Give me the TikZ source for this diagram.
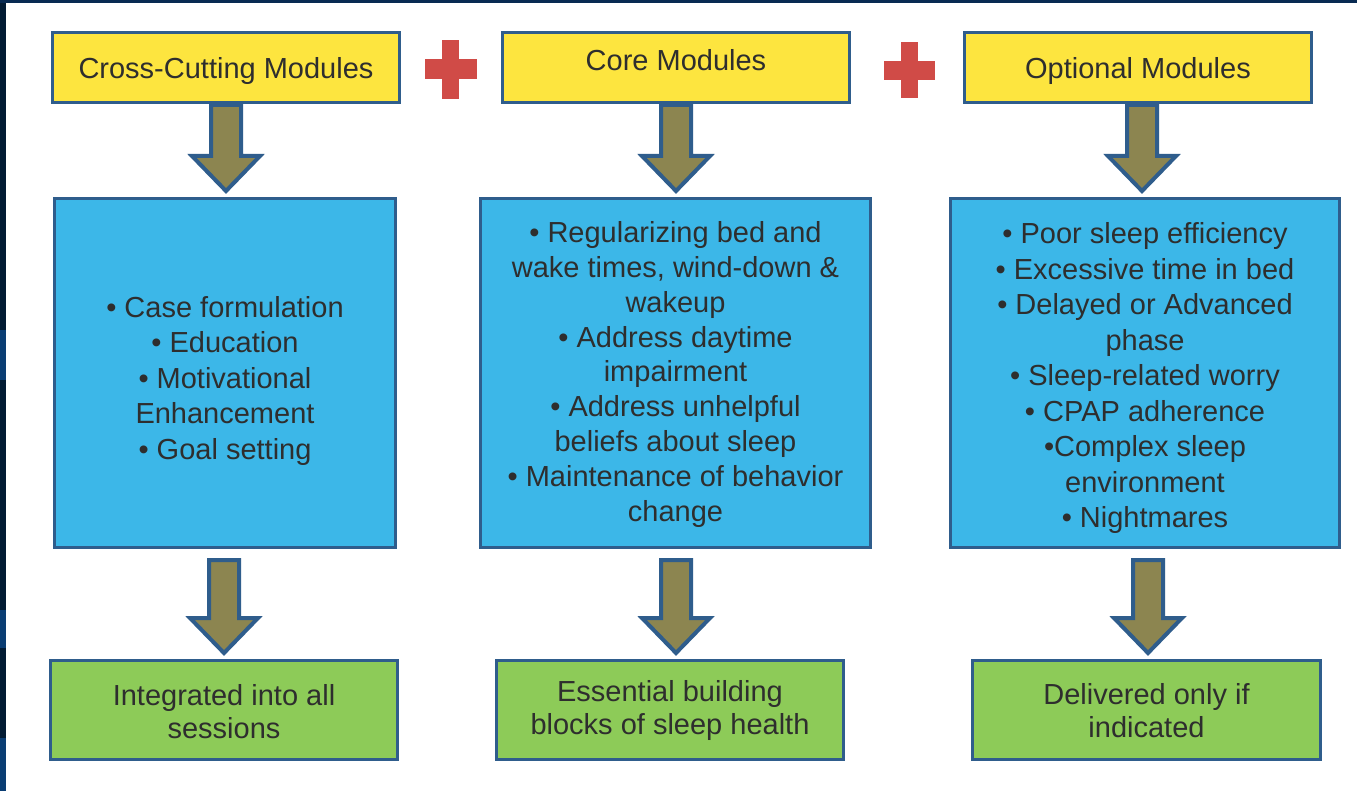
\documentclass[tikz,border=0pt]{standalone}
\usepackage{fontspec}
\setmainfont{Liberation Sans}
\usetikzlibrary{calc}
\definecolor{edgeblue}{HTML}{2F5D8C}
\definecolor{yfill}{HTML}{FDE53F}
\definecolor{bfill}{HTML}{3CB7E8}
\definecolor{gfill}{HTML}{8DCB58}
\definecolor{arrowolive}{HTML}{8C8550}
\definecolor{plusred}{HTML}{D04B47}
\definecolor{ink}{HTML}{2E2E2E}
\definecolor{navy}{HTML}{021B33}
\definecolor{navypatch}{HTML}{0A3D73}
\definecolor{topnavy}{HTML}{082A52}

% block arrow from one node down to another: from, to, gap below "from", x shift
\newcommand{\blockarrow}[4]{%
  \draw[bigarrow]
    ($(#1.south)+(#4-15,#3)$) --
    ($(#1.south |- #2.north)+(#4-15,-41)$) --
    ($(#1.south |- #2.north)+(#4-34,-41)$) --
    ($(#1.south |- #2.north)+(#4,-6)$) --
    ($(#1.south |- #2.north)+(#4+34,-41)$) --
    ($(#1.south |- #2.north)+(#4+15,-41)$) --
    ($(#1.south)+(#4+15,#3)$) -- cycle;}

\begin{document}
\begin{tikzpicture}[x=1pt,y=-1pt,
  panel/.style={draw=edgeblue, line width=3pt, inner sep=0pt},
  titlebox/.style={panel, fill=yfill, minimum width=347, minimum height=70},
  listbox/.style={panel, fill=bfill, minimum height=349},
  notebox/.style={panel, fill=gfill, minimum width=347, minimum height=99},
  txt/.style={align=center, text=ink, inner sep=0pt,
    font=\fontsize{29}{35.5}\selectfont},
  tighttxt/.style={txt, font=\fontsize{29}{34.8}\selectfont},
  notetxt/.style={txt, font=\fontsize{29}{33}\selectfont},
  bigarrow/.style={draw=edgeblue, fill=arrowolive, line width=4pt, line join=miter}]

% page and framing strips
\useasboundingbox (0,0) rectangle (1357,791);
\fill[white] (0,0) rectangle (1357,791);
\fill[navy] (0,0) rectangle (6,791);
\fill[navypatch] (0,330) rectangle (6,380);
\fill[navypatch] (0,610) rectangle (6,648);
\fill[navypatch] (0,738) rectangle (6,791);
\fill[topnavy] (0,0) rectangle (1357,3);

% module headers
\node[titlebox] (y1) at (226,67.5) {};
\node[titlebox] (y2) at (676,67.5) {};
\node[titlebox] (y3) at (1138,67.5) {};
\node[txt] (y1t) at (226,71) {Cross-Cutting Modules};
\node[txt] (y2t) at (676,60.5) {Core Modules};
\node[txt] (y3t) at (1138,71) {Optional Modules};

% plus signs between the headers
\fill[plusred] (425,59) rectangle (477,79);
\fill[plusred] (442,40) rectangle (459,99);
\fill[plusred] (884,61) rectangle (935,80);
\fill[plusred] (901,42) rectangle (918,98);

% module contents
\node[listbox, minimum width=341] (b1) at (225,373) {};
\node[listbox, minimum width=390] (b2) at (675.5,373) {};
\node[listbox, minimum width=389] (b3) at (1145,373) {};
\node[txt] (b1t) at (225,381) {• Case formulation\\• Education\\• Motivational\\Enhancement\\• Goal setting};
\node[tighttxt] (b2t) at (675.5,374.5) {• Regularizing bed and\\wake times, wind-down \&\\wakeup\\• Address daytime\\impairment\\• Address unhelpful\\beliefs about sleep\\• Maintenance of behavior\\change};
\node[txt] (b3t) at (1145,378.5) {• Poor sleep efficiency\\• Excessive time in bed\\• Delayed or Advanced\\phase\\• Sleep-related worry\\• CPAP adherence\\•Complex sleep\\environment\\• Nightmares};

% delivery notes
\node[notebox] (g1) at (224,710) {};
\node[notebox] (g2) at (670,710) {};
\node[notebox, minimum width=348] (g3) at (1146.5,710) {};
\node[notetxt] (g1t) at (224,711.5) {Integrated into all\\sessions};
\node[notetxt] (g2t) at (670,710.5) {Essential building\\blocks of sleep health};
\node[notetxt] (g3t) at (1146.5,710.5) {Delivered only if\\indicated};

% arrows
\blockarrow{y1}{b1}{1}{0}
\blockarrow{y2}{b2}{1}{0}
\blockarrow{y3}{b3}{1}{4}
\blockarrow{b1}{g1}{11}{-1}
\blockarrow{b2}{g2}{11}{0.5}
\blockarrow{b3}{g3}{11}{3}
\end{tikzpicture}
\end{document}
